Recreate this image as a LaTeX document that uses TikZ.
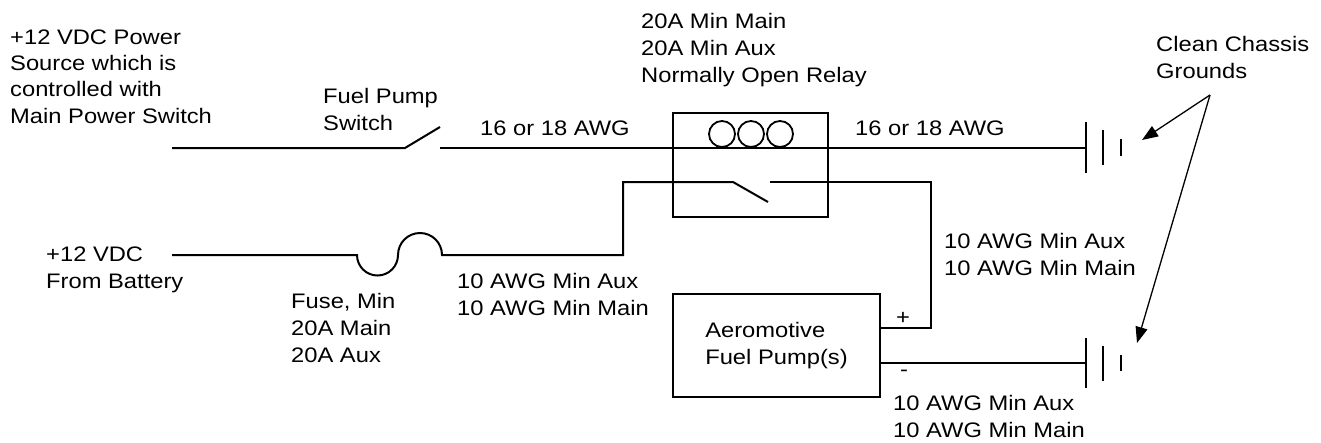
\documentclass[tikz,border=0pt]{standalone}
\usepackage{fontspec}
\setmainfont[FakeStretch=1.13]{Liberation Sans}
\usetikzlibrary{arrows.meta}
\begin{document}
\begin{tikzpicture}[x=1pt,y=-1pt,
  wire/.style={line width=2pt},
  boxstyle/.style={draw,line width=2pt,inner sep=0pt},
  lbl/.style={anchor=base west,inner sep=0pt,align=left,font=\fontsize{21}{27}\selectfont},
  sym/.style={inner sep=0pt,font=\fontsize{21}{27}\selectfont},
  pointer/.style={line width=1.3pt,-{Triangle[length=16pt,width=12pt]}}]
\useasboundingbox (0,0) rectangle (1321,442);
% boxes
\node[boxstyle,minimum width=155pt,minimum height=104pt] (relay) at (750.5,165) {};
\node[boxstyle,minimum width=207pt,minimum height=103pt,align=left,font=\fontsize{21}{27}\selectfont] (pump) at (776.5,345.5) {Aeromotive\\Fuel Pump(s)};
% coordinates
\coordinate (srcend) at (172,148);
\coordinate (swA) at (405,148);
\coordinate (swB) at (440,127);
\coordinate (swC) at (440,148);
\coordinate (g1) at (1086,148);
\coordinate (batend) at (172,255);
\coordinate (fuA) at (357,255);
\coordinate (fuB) at (442,255);
\coordinate (jL) at (623,255);
\coordinate (cL1) at (623,182);
\coordinate (cL2) at (733,182);
\coordinate (cB) at (768,202);
\coordinate (cR1) at (770,182);
\coordinate (cR2) at (931,182);
\coordinate (pp) at (931,328);
\coordinate (pplus) at (880,328);
\coordinate (pminus) at (880,363);
\coordinate (g2) at (1086,363);
\coordinate (arrstart) at (1210,95);
\coordinate (tip1) at (1142,140);
\coordinate (tip2) at (1137,343);
% top wire with switch
\draw[wire] (srcend) -- (swA) -- (swB);
\draw[wire] (swC) -- (g1);
% relay coils
\foreach \cx in {722,751,780} \draw[line width=1.8pt] (\cx,134) circle[radius=13];
% battery wire with fuse
\draw[wire] (batend) -- (fuA) arc[start angle=180,end angle=0,radius=20.5] arc[start angle=180,end angle=360,radius=22] -- (jL) -- (cL1) -- (cL2) -- (cB);
\draw[wire] (cR1) -- (cR2) -- (pp) -- (pplus);
\draw[wire] (pminus) -- (g2);
% grounds
\draw[wire] (1086,122) -- (1086,173);
\draw[wire] (1103,130) -- (1103,165);
\draw[wire] (1121,139) -- (1121,156);
\draw[wire] (1086,338) -- (1086,388);
\draw[wire] (1103,346) -- (1103,381);
\draw[wire] (1121,355) -- (1121,371);
% pointers
\draw[pointer] (arrstart) -- (tip1);
\draw[pointer] (arrstart) -- (tip2);
% labels (anchored at the baseline of the last line)
\node[lbl,font=\fontsize{21}{26.3}\selectfont] (src) at (10,123) {+12 VDC Power\\Source which is\\controlled with\\Main Power Switch};
\node[lbl] (fps) at (323,130) {Fuel Pump\\Switch};
\node[lbl] (awg1) at (480,135) {16 or 18 AWG};
\node[lbl] (rl) at (641,82) {20A Min Main\\20A Min Aux\\Normally Open Relay};
\node[lbl] (awg2) at (855,135) {16 or 18 AWG};
\node[lbl] (cg) at (1156,78) {Clean Chassis\\Grounds};
\node[lbl] (bat) at (46,288) {+12 VDC\\From Battery};
\node[lbl] (fl) at (291,362) {Fuse, Min\\20A Main\\20A Aux};
\node[lbl] (awg3) at (457,315) {10 AWG Min Aux\\10 AWG Min Main};
\node[lbl] (awg4) at (944,275) {10 AWG Min Aux\\10 AWG Min Main};
\node[lbl] (awg5) at (893,437) {10 AWG Min Aux\\10 AWG Min Main};
\node[sym] (plus) at (903,318) {+};
\node[sym] (minus) at (904,373) {-};
\end{tikzpicture}
\end{document}
